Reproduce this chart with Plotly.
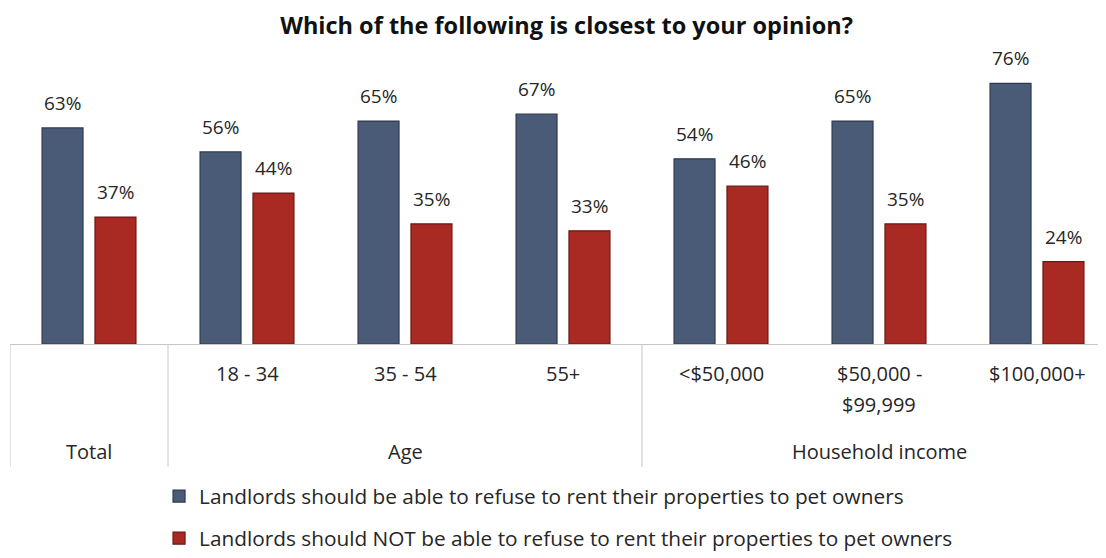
import plotly.graph_objects as go

# ---- data ----
sub_labels = ["", "18 - 34", "35 - 54", "55+", "<$50,000", "$50,000 -\n$99,999", "$100,000+"]
group_labels = ["Total", "Age", "Household income"]
group_members = [[0], [1, 2, 3], [4, 5, 6]]
series_names = [
    "Landlords should be able to refuse to rent their properties to pet owners",
    "Landlords should NOT be able to refuse to rent their properties to pet owners",
]
can_refuse = [63, 56, 65, 67, 54, 65, 76]
cannot_refuse = [37, 44, 35, 33, 46, 35, 24]

title = "Which of the following is closest to your opinion?"

# ---- style ----
FONT = "Open Sans"
FS_VAL = 19
FS_CAT = 20
FS_LEG = 20.8
TXT = "#262626"
BLUE = "#4A5B78"
BLUE_EDGE = "#2E3A4F"
RED = "#A82A22"
RED_EDGE = "#6A1812"
GRID = "#C6C6C6"

W, H = 1106, 558
OFF = 8  # page body margin of the browser
ML, MR, MT, MB = 10 - OFF, 0, 60 - OFF, H - (344 - OFF)

xs = list(range(len(can_refuse)))
BARGAP = 0.33
GROUPGAP = 0.226
slot = (1 - BARGAP) / 2
offsets = [-slot / 2, slot / 2]

fig = go.Figure()
for i, (name, vals, col, edge) in enumerate(
    [(series_names[0], can_refuse, BLUE, BLUE_EDGE), (series_names[1], cannot_refuse, RED, RED_EDGE)]
):
    fig.add_trace(go.Bar(
        x=xs, y=vals, name=name,
        marker=dict(color=col, line=dict(color=edge, width=1.2)),
        legendgroup=f"g{i}",
        hoverinfo="skip",
    ))

# value labels
annotations = []
for vals, off in [(can_refuse, offsets[0]), (cannot_refuse, offsets[1])]:
    for x, v in zip(xs, vals):
        annotations.append(dict(
            x=x + off, y=v, xref="x", yref="y", text=f"{v}%", showarrow=False,
            yanchor="middle", yshift=25, font=dict(family=FONT, size=FS_VAL, color=TXT),
        ))

# sub-category labels
for x, lab in zip(xs, sub_labels):
    for k, line in enumerate(lab.split("\n")):
        if not line:
            continue
        annotations.append(dict(
            x=x, y=0, xref="x", yref="paper", text=line, showarrow=False,
            yanchor="middle", yshift=-29 - 31 * k, font=dict(family=FONT, size=FS_CAT, color=TXT),
        ))

# group labels
for lab, mem in zip(group_labels, group_members):
    annotations.append(dict(
        x=sum(mem) / len(mem), y=0, xref="x", yref="paper", text=lab, showarrow=False,
        yanchor="middle", yshift=-107, font=dict(family=FONT, size=FS_CAT, color=TXT),
    ))

plot_h = H - MT - MB
div_bottom = -(467 - 344) / plot_h
shapes = []
for b in [-0.5, 0.5, 3.5]:
    shapes.append(dict(type="line", xref="x", yref="paper", x0=b, x1=b, y0=0, y1=div_bottom,
                       line=dict(color=GRID, width=1)))

px_per_unit = 158
x_left = -0.5
x_right = x_left + (W - ML - MR) / px_per_unit
px_per_pct = 3.43
y_top = plot_h / px_per_pct

fig.update_layout(
    width=W, height=H,
    margin=dict(l=ML, r=MR, t=MT, b=MB, autoexpand=False),
    paper_bgcolor="white", plot_bgcolor="white",
    barmode="group", bargap=BARGAP, bargroupgap=GROUPGAP,
    title=dict(text=f"<b>{title}</b>", x=0.505, xanchor="center", y=0.968, yanchor="middle",
               font=dict(family=FONT, size=23.5, color="#111")),
    xaxis=dict(range=[x_left, x_right], showticklabels=False, showgrid=False, zeroline=False,
               showline=True, linecolor=GRID, linewidth=1, ticks=""),
    yaxis=dict(range=[0, y_top], visible=False, showgrid=False, zeroline=False),
    showlegend=True,
    legend=dict(orientation="v", x=0.135, xanchor="left", y=-0.465, yanchor="top",
                font=dict(family=FONT, size=FS_LEG, color=TXT), tracegroupgap=12,
                itemwidth=30, bgcolor="rgba(0,0,0,0)"),
    annotations=annotations,
    shapes=shapes,
)

fig.write_html("out.html")
